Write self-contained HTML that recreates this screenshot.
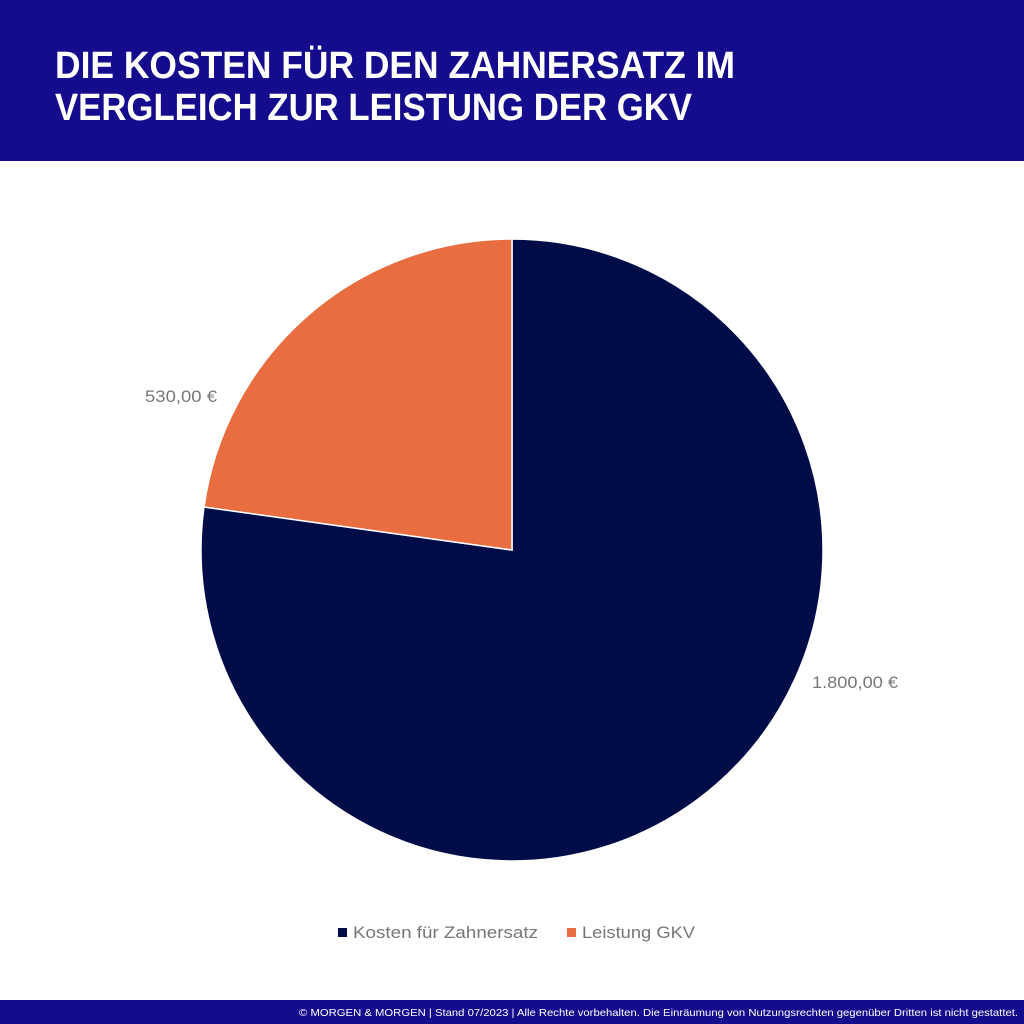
<!DOCTYPE html>
<html><head><meta charset="utf-8"><style>html,body{margin:0;padding:0;background:#fff}svg{display:block}</style></head>
<body>
<svg width="1024" height="1024" viewBox="0 0 1024 1024" xmlns="http://www.w3.org/2000/svg" font-family="Liberation Sans, sans-serif">
<rect x="0" y="0" width="1024" height="161" fill="#140c8c"/>
<text x="55" y="78" font-size="38" font-weight="bold" fill="#fff" textLength="680" lengthAdjust="spacingAndGlyphs">DIE KOSTEN FÜR DEN ZAHNERSATZ IM</text>
<text x="55" y="120" font-size="38" font-weight="bold" fill="#fff" textLength="637" lengthAdjust="spacingAndGlyphs">VERGLEICH ZUR LEISTUNG DER GKV</text>
<path d="M512,550 L512,239 A311,311 0 1 1 204,507 Z" fill="#000c47" stroke="#fff" stroke-width="1.5"/>
<path d="M512,550 L204,507 A311,311 0 0 1 512,239 Z" fill="#e86d41" stroke="#fff" stroke-width="1.5"/>
<text x="145" y="402" font-size="17" fill="#777" textLength="72" lengthAdjust="spacingAndGlyphs">530,00 €</text>
<text x="812" y="688" font-size="17" fill="#777" textLength="86" lengthAdjust="spacingAndGlyphs">1.800,00 €</text>
<rect x="338" y="928" width="9" height="9" fill="#000c47"/>
<text x="353" y="938" font-size="17" fill="#777" textLength="185" lengthAdjust="spacingAndGlyphs">Kosten für Zahnersatz</text>
<rect x="567" y="928" width="9" height="9" fill="#e86d41"/>
<text x="582" y="938" font-size="17" fill="#777" textLength="113" lengthAdjust="spacingAndGlyphs">Leistung GKV</text>
<rect x="0" y="1000" width="1024" height="24" fill="#140c8c"/>
<text x="299" y="1016" font-size="10.5" fill="#fff" textLength="719" lengthAdjust="spacingAndGlyphs">© MORGEN &amp; MORGEN | Stand 07/2023 | Alle Rechte vorbehalten. Die Einräumung von Nutzungsrechten gegenüber Dritten ist nicht gestattet.</text>
</svg>
</body></html>
